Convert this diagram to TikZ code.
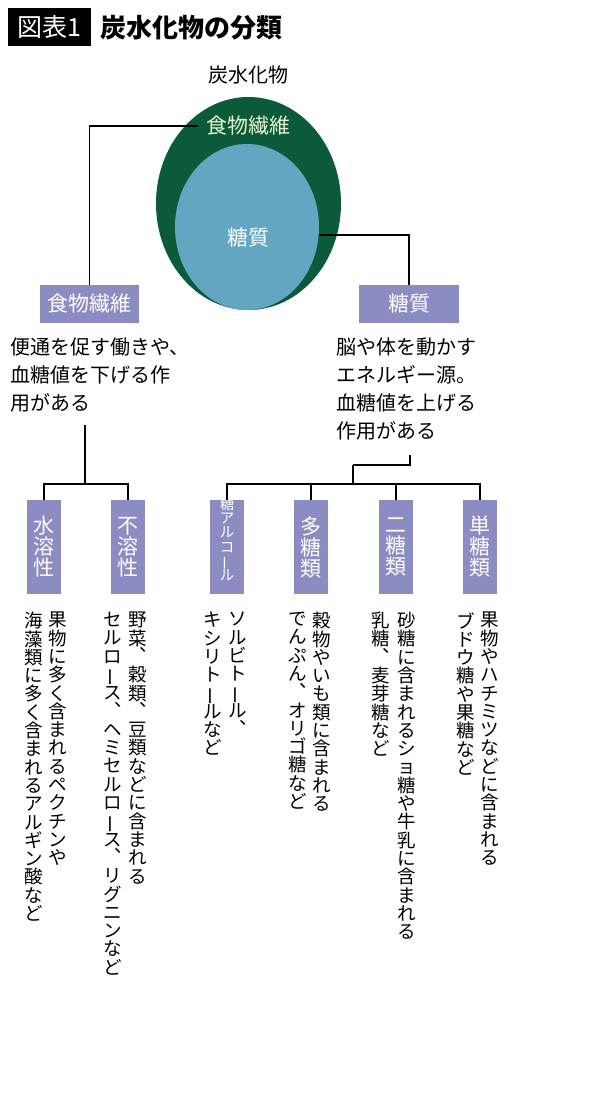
\documentclass[tikz,border=0pt]{standalone}
\usepackage{fontspec}
\usepackage{graphicx}
\setmainfont{Noto Sans CJK JP}
\definecolor{dgreen}{HTML}{0B5A3A}
\definecolor{lblue}{HTML}{63A6C2}
\definecolor{lav}{HTML}{8B8DC2}
\definecolor{lgreen}{HTML}{E6F5CF}
\newdimen\vstkskip
\def\vstkEnd{\vstkEnd}
\def\vstkA#1{\ifx#1\vstkEnd\else\hbox to 1em{\hss#1\hss}\expandafter\vstkA\fi}
\newcommand\vstk[2]{\vstkskip=#1\vbox{\baselineskip=\vstkskip\lineskip=0pt\lineskiplimit=-100pt\vstkA#2\vstkEnd}}
\newcommand\vcm{\hbox to 1em{\kern0.6em\raisebox{0.62em}{、}\hss}}
\newcommand\vlong{\hbox to 1em{\hss\rotatebox[origin=c]{90}{ー}\hss}}
\begin{document}
\begin{tikzpicture}[x=1pt,y=-1pt,
  lbox/.style={fill=lav,inner sep=0pt},
  ln/.style={line width=1.3pt,black},
  body/.style={font=\fontsize{20}{28}\selectfont,align=left,anchor=north west,inner sep=0pt},
  vcol/.style={anchor=north,inner sep=0pt,font=\fontsize{18.5}{18.5}\selectfont},
  vlab/.style={inner sep=0pt,text=white,font=\fontsize{21}{21}\selectfont}]
\useasboundingbox[fill=white] (0,0) rectangle (600,1108);
% title
\fill[black] (8,8) rectangle (91,46);
\node[text=white,font=\fontsize{25}{25}\selectfont,inner sep=0pt] (tnum) at (49.5,27) {図表1};
\node[anchor=west,font=\fontsize{26}{26}\selectfont\bfseries,inner sep=0pt] (title) at (100,28) {炭水化物の分類};
\node[font=\fontsize{20}{20}\selectfont,inner sep=0pt] (carb) at (248,75) {炭水化物};
% circles
\fill[dgreen] (248.5,203.5) ellipse [x radius=92.5, y radius=106.5];
\fill[lblue] (247,227) ellipse [x radius=72, y radius=83];
\node[text=lgreen,font=\fontsize{21}{21}\selectfont,inner sep=0pt] (fib) at (248,126) {食物繊維};
\node[text=white,font=\fontsize{21}{21}\selectfont,inner sep=0pt] (sug) at (248,238) {糖質};
\coordinate (fibL) at (198,126);
\coordinate (sugR) at (319,235);
% level-1 boxes
\node[lbox,minimum width=99pt,minimum height=38pt,text=white,font=\fontsize{21}{21}\selectfont] (fibB) at (89.5,304) {食物繊維};
\node[lbox,minimum width=100pt,minimum height=38pt,text=white,font=\fontsize{21}{21}\selectfont] (sugB) at (409,304) {糖質};
\draw[ln] (fibL) -| (fibB.north);
\draw[ln] (sugR) -| (sugB.north);
\node[body] (fibT) at (10,338) {便通を促す働きや、\\血糖値を下げる作\\用がある};
\node[body] (sugT) at (336,338) {脳や体を動かす\\エネルギー源。\\血糖値を上げる\\作用がある};
% level-2 boxes
\foreach \n/\x in {ws/44,ins/128,alc/227,poly/311,di/396,mono/480}{
  \node[lbox,minimum width=34pt,minimum height=94pt] (\n) at (\x,547) {};
}
\node[vlab] at (ws) {\vstk{21pt}{水溶性}};
\node[vlab] at (ins) {\vstk{21pt}{不溶性}};
\node[vlab] at (poly) {\vstk{21pt}{多糖類}};
\node[vlab] at (di) {\vstk{21pt}{二糖類}};
\node[vlab] at (mono) {\vstk{21pt}{単糖類}};
\node[vlab,anchor=north,font=\fontsize{14.5}{14.5}\selectfont] at ([yshift=3pt]alc.north) {\vstk{14.3pt}{糖アルコ\vlong ル}};
% tree connectors
\coordinate (fibJ) at (85,484);
\draw[ln] (85,425) -- (fibJ);
\draw[ln] (ws.north) |- (fibJ) -| (ins.north);
\coordinate (sugJ) at (353,465);
\draw[ln] (410,455) |- (sugJ);
\draw[ln] (sugJ) -- (353,484);
\draw[ln] (alc.north) |- (mono.north |- 0,484) -- (mono.north);
\draw[ln] (poly.north) -- (poly.north |- 0,484);
\draw[ln] (di.north) -- (di.north |- 0,484);
% vertical descriptions
\def\ps{18.3pt}
\node[vcol] (c1) at (58,612) {\vstk{\ps}{果物に多く含まれるペクチンや}};
\node[vcol] (c2) at (34,612) {\vstk{\ps}{海藻類に多く含まれるアルギン酸など}};
\node[vcol] (c3) at (138,612) {\vstk{\ps}{野菜\vcm 穀類\vcm 豆類などに含まれる}};
\node[vcol] (c4) at (113,612) {\vstk{\ps}{セルロ\vlong ス\vcm ヘミセルロ\vlong ス\vcm リグニンなど}};
\node[vcol] (c5) at (238,612) {\vstk{\ps}{ソルビト\vlong ル\vcm}};
\node[vcol] (c6) at (213,612) {\vstk{\ps}{キシリト\vlong ルなど}};
\node[vcol] (c7) at (322,612) {\vstk{\ps}{穀物やいも類に含まれる}};
\node[vcol] (c8) at (298,612) {\vstk{\ps}{でんぷん\vcm オリゴ糖など}};
\node[vcol] (c9) at (407,612) {\vstk{\ps}{砂糖に含まれるショ糖や牛乳に含まれる}};
\node[vcol] (c10) at (381,612) {\vstk{\ps}{乳糖\vcm 麦芽糖など}};
\node[vcol] (c11) at (490,612) {\vstk{\ps}{果物やハチミツなどに含まれる}};
\node[vcol] (c12) at (466,612) {\vstk{\ps}{ブドウ糖や果糖など}};
\end{tikzpicture}
\end{document}
